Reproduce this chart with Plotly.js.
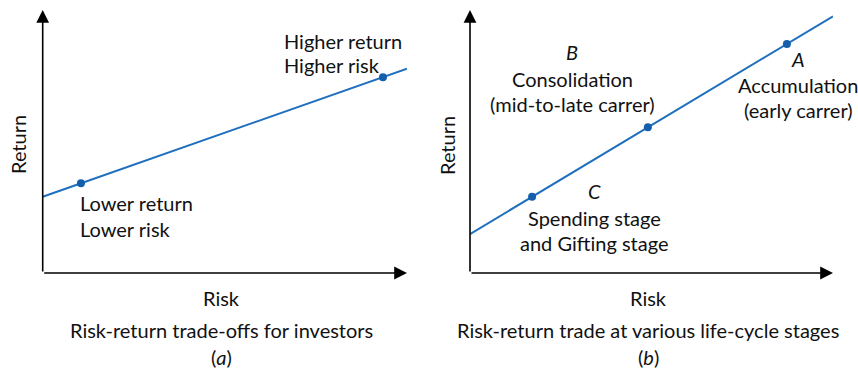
<!DOCTYPE html>
<html>
<head>
<meta charset="utf-8">
<script src="https://cdn.plot.ly/plotly-3.0.1.min.js"></script>
<style>
  html, body { margin: 0; padding: 0; background: #fff; }
  #plot { width: 858px; height: 371px; }
</style>
</head>
<body>
<div id="plot"></div>
<script>
// panel (a): risk-return trade-off line
var lineRiskA = [0, 10];
var lineReturnA = [2.9, 7.77];
var pointRiskA = [1.05, 9.34];
var pointReturnA = [3.41, 7.44];

// panel (b): life-cycle stages
var lineRiskB = [0, 10];
var lineReturnB = [1.48, 9.76];
var stageRisk = [1.71, 4.9, 8.73];
var stageReturn = [2.9, 5.54, 8.71];

var blue = "#1f6fbf";
var dotBlue = "#135fab";
var font = "Lato, Open Sans, sans-serif";

var traces = [
  { x: lineRiskA, y: lineReturnA, mode: "lines", xaxis: "x", yaxis: "y",
    line: { color: blue, width: 2 }, hoverinfo: "skip" },
  { x: pointRiskA, y: pointReturnA, mode: "markers", xaxis: "x", yaxis: "y",
    marker: { color: dotBlue, size: 8 }, cliponaxis: false },
  { x: lineRiskB, y: lineReturnB, mode: "lines", xaxis: "x2", yaxis: "y2",
    line: { color: blue, width: 2 }, hoverinfo: "skip" },
  { x: stageRisk, y: stageReturn, mode: "markers", xaxis: "x2", yaxis: "y2",
    marker: { color: dotBlue, size: 8 }, cliponaxis: false }
];

var hidden = {
  range: [0, 10], showgrid: false, zeroline: false, showline: false,
  showticklabels: false, ticks: "", fixedrange: true
};

function axis(domain, anchor) {
  return Object.assign({}, hidden, { domain: domain, anchor: anchor });
}

// arrowed axes drawn as annotations
function arrow(xr, yr, x, y) {
  return {
    xref: xr, yref: yr, axref: xr, ayref: yr,
    x: x, y: y, ax: 0, ay: 0, text: "", showarrow: true,
    arrowhead: 2, arrowsize: 1.6, arrowwidth: 1.6, arrowcolor: "#000"
  };
}

function label(xr, yr, x, y, text, anchor, size) {
  return {
    xref: xr, yref: yr, x: x, y: y, text: text, showarrow: false,
    xanchor: anchor || "center", yanchor: "middle", borderpad: 0,
    font: { family: font, size: size || 20, color: "#111" }
  };
}

var annotations = [
  arrow("x", "y", 10, 0), arrow("x", "y", 0, 10),
  arrow("x2", "y2", 10, 0), arrow("x2", "y2", 0, 10),

  label("x", "y", 6.6, 8.82, "Higher return", "left"),
  label("x", "y", 6.6, 7.91, "Higher risk", "left"),
  label("x", "y", 1.0, 2.66, "Lower return", "left"),
  label("x", "y", 1.0, 1.67, "Lower risk", "left"),

  label("x2", "y2", 2.81, 8.4, "<i>B</i>"),
  label("x2", "y2", 2.81, 7.38, "Consolidation"),
  label("x2", "y2", 2.81, 6.43, "(mid-to-late carrer)"),
  label("x2", "y2", 9.04, 8.14, "<i>A</i>"),
  label("x2", "y2", 9.04, 7.15, "Accumulation"),
  label("x2", "y2", 9.04, 6.2, "(early carrer)"),
  label("x2", "y2", 3.42, 3.12, "<i>C</i>"),
  label("x2", "y2", 3.42, 2.09, "Spending stage"),
  label("x2", "y2", 3.42, 1.14, "and Gifting stage"),

  // axis titles and captions (paper coords)
  label("paper", "paper", 221 / 858, 1 - 298 / 371, "Risk"),
  label("paper", "paper", 648 / 858, 1 - 298 / 371, "Risk"),
  label("paper", "paper", 221 / 858, 1 - 330 / 371, "Risk-return trade-offs for investors"),
  label("paper", "paper", 648 / 858, 1 - 330 / 371, "Risk-return trade at various life-cycle stages"),
  label("paper", "paper", 221 / 858, 1 - 357 / 371, "(<i>a</i>)", "center", 20),
  label("paper", "paper", 648 / 858, 1 - 357 / 371, "(<i>b</i>)", "center", 20)
];

var retA = label("paper", "paper", 18 / 858, 1 - 145 / 371, "Return");
retA.textangle = -90;
var retB = label("paper", "paper", 447 / 858, 1 - 145 / 371, "Return");
retB.textangle = -90;
annotations.push(retA, retB);

var layout = {
  width: 858, height: 371,
  margin: { l: 0, r: 0, t: 0, b: 0 },
  paper_bgcolor: "#fff", plot_bgcolor: "#fff",
  showlegend: false,
  xaxis: axis([42.7 / 858, 407 / 858], "y"),
  yaxis: axis([1 - 273 / 371, 1 - 10 / 371], "x"),
  xaxis2: axis([470 / 858, 833 / 858], "y2"),
  yaxis2: axis([1 - 273 / 371, 1 - 10 / 371], "x2"),
  annotations: annotations
};

Plotly.newPlot("plot", traces, layout, { displayModeBar: false, staticPlot: true });
</script>
</body>
</html>
